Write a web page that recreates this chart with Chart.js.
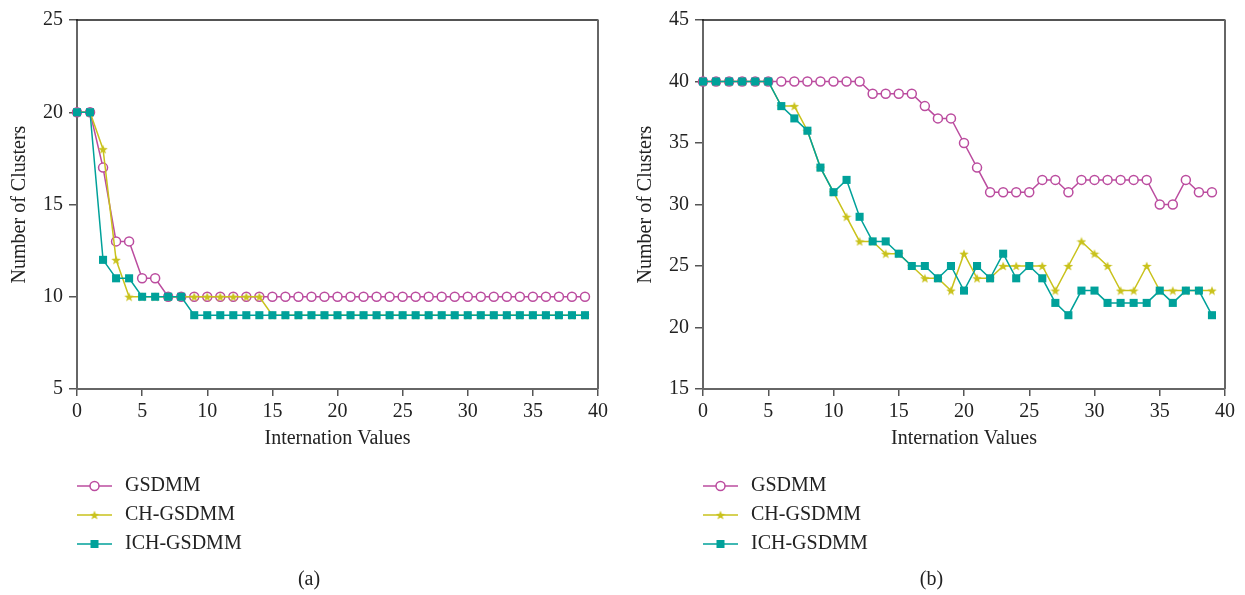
<!DOCTYPE html>
<html>
<head>
<meta charset="utf-8">
<script src="https://cdn.jsdelivr.net/npm/chart.js@4/dist/chart.umd.min.js"></script>
<style>
  html, body { margin: 0; padding: 0; background: #fff; }
  .panel { position: absolute; top: 0; height: 595px; }
  #panelA { left: 0; width: 622px; }
  #panelB { left: 622px; width: 623px; }
</style>
</head>
<body>
<div class="panel" id="panelA"><canvas id="chartA"></canvas></div>
<div class="panel" id="panelB"><canvas id="chartB"></canvas></div>
<script>
// iteration index on the x axis
const iterations = [0, 1, 2, 3, 4, 5, 6, 7, 8, 9, 10, 11, 12, 13, 14, 15, 16, 17, 18, 19,
                    20, 21, 22, 23, 24, 25, 26, 27, 28, 29, 30, 31, 32, 33, 34, 35, 36, 37, 38, 39];

// (a)
const gsdmmA = [20, 20, 17, 13, 13, 11, 11, 10, 10, 10, 10, 10, 10, 10, 10, 10, 10, 10, 10, 10,
                10, 10, 10, 10, 10, 10, 10, 10, 10, 10, 10, 10, 10, 10, 10, 10, 10, 10, 10, 10];
const chA    = [20, 20, 18, 12, 10, 10, 10, 10, 10, 10, 10, 10, 10, 10, 10, 9, 9, 9, 9, 9,
                9, 9, 9, 9, 9, 9, 9, 9, 9, 9, 9, 9, 9, 9, 9, 9, 9, 9, 9, 9];
const ichA   = [20, 20, 12, 11, 11, 10, 10, 10, 10, 9, 9, 9, 9, 9, 9, 9, 9, 9, 9, 9,
                9, 9, 9, 9, 9, 9, 9, 9, 9, 9, 9, 9, 9, 9, 9, 9, 9, 9, 9, 9];

// (b)
const gsdmmB = [40, 40, 40, 40, 40, 40, 40, 40, 40, 40, 40, 40, 40, 39, 39, 39, 39, 38, 37, 37,
                35, 33, 31, 31, 31, 31, 32, 32, 31, 32, 32, 32, 32, 32, 32, 30, 30, 32, 31, 31];
const chB    = [40, 40, 40, 40, 40, 40, 38, 38, 36, 33, 31, 29, 27, 27, 26, 26, 25, 24, 24, 23,
                26, 24, 24, 25, 25, 25, 25, 23, 25, 27, 26, 25, 23, 23, 25, 23, 23, 23, 23, 23];
const ichB   = [40, 40, 40, 40, 40, 40, 38, 37, 36, 33, 31, 32, 29, 27, 27, 26, 25, 25, 24, 25,
                23, 25, 24, 26, 24, 25, 24, 22, 21, 23, 23, 22, 22, 22, 22, 23, 22, 23, 23, 21];

const seriesNames = ['GSDMM', 'CH-GSDMM', 'ICH-GSDMM'];
const yRangeA = [5, 25];
const yRangeB = [15, 45];
const xRange = [0, 40];

const FONT = "'Liberation Serif', 'Times New Roman', serif";
const MAGENTA = '#bb4c9f';
const YELLOW = '#c9c21c';
const TEAL = '#00a19a';

// filled five point star used as the CH-GSDMM marker
function makeStar(size, color) {
    const c = document.createElement('canvas');
    c.width = size;
    c.height = size;
    const g = c.getContext('2d');
    const cx = size / 2, cy = size / 2 + 0.5;
    const outer = size / 2, inner = outer * 0.42;
    g.beginPath();
    for (let i = 0; i < 10; i++) {
        const r = i % 2 === 0 ? outer : inner;
        const a = -Math.PI / 2 + i * Math.PI / 5;
        const px = cx + r * Math.cos(a), py = cy + r * Math.sin(a);
        if (i === 0) g.moveTo(px, py); else g.lineTo(px, py);
    }
    g.closePath();
    g.fillStyle = color;
    g.fill();
    return c;
}
const starImg = makeStar(10, YELLOW);

function toPoints(values) {
    return values.map((v, i) => ({ x: iterations[i], y: v }));
}

// box top/right edges
const framePlugin = {
    id: 'frame',
    beforeDatasetsDraw(chart) {
        const a = chart.chartArea;
        const ctx = chart.ctx;
        ctx.save();
        ctx.strokeStyle = '#1a1a1a';
        ctx.lineWidth = 1.5;
        ctx.beginPath();
        ctx.moveTo(a.left - 1, a.top);
        ctx.lineTo(a.right, a.top);
        ctx.stroke();
        ctx.strokeStyle = '#666';
        ctx.lineWidth = 2;
        ctx.beginPath();
        ctx.moveTo(a.right, a.top - 0.5);
        ctx.lineTo(a.right, a.bottom);
        ctx.stroke();
        ctx.restore();
    }
};

// legend under the plot + caption
const legendPlugin = {
    id: 'bottomLegend',
    afterDraw(chart, args, opts) {
        const ctx = chart.ctx;
        const x0 = chart.chartArea.left;
        const rows = [486, 515, 544];
        ctx.save();
        chart.data.datasets.forEach((ds, i) => {
            const y = rows[i];
            ctx.strokeStyle = ds.borderColor;
            ctx.lineWidth = 1.5;
            ctx.beginPath();
            ctx.moveTo(x0, y);
            ctx.lineTo(x0 + 35, y);
            ctx.stroke();
            const mx = x0 + 17.5;
            if (ds.pointStyle === 'circle') {
                ctx.beginPath();
                ctx.arc(mx, y, 4.5, 0, Math.PI * 2);
                ctx.fillStyle = '#fff';
                ctx.fill();
                ctx.lineWidth = 1.5;
                ctx.stroke();
            } else if (ds.pointStyle === 'rect') {
                ctx.fillStyle = ds.pointBackgroundColor;
                ctx.fillRect(mx - 4, y - 4, 8, 8);
            } else {
                ctx.drawImage(ds.pointStyle, mx - ds.pointStyle.width / 2, y - ds.pointStyle.height / 2);
            }
            ctx.fillStyle = '#222';
            ctx.font = '20px ' + FONT;
            ctx.textBaseline = 'middle';
            ctx.textAlign = 'left';
            ctx.fillText(ds.label, x0 + 48, y);
        });
        ctx.fillStyle = '#222';
        ctx.font = '20px ' + FONT;
        ctx.textAlign = 'center';
        ctx.textBaseline = 'middle';
        ctx.fillText(opts.caption, chart.width / 2 - 2, 580);
        ctx.restore();
    }
};

function makeChart(id, gs, ch, ich, yRange, yWidth, titlePad, padRight, caption) {
    const ctx = document.getElementById(id).getContext('2d');
    return new Chart(ctx, {
        type: 'line',
        data: {
            datasets: [{
                label: seriesNames[0],
                data: toPoints(gs),
                borderColor: MAGENTA,
                borderWidth: 1.5,
                pointStyle: 'circle',
                pointRadius: 4.5,
                pointBorderWidth: 1.5,
                pointBackgroundColor: '#fff',
                pointBorderColor: MAGENTA,
                order: 3
            }, {
                label: seriesNames[1],
                data: toPoints(ch),
                borderColor: YELLOW,
                borderWidth: 1.5,
                pointStyle: starImg,
                pointRadius: 5,
                order: 2
            }, {
                label: seriesNames[2],
                data: toPoints(ich),
                borderColor: TEAL,
                borderWidth: 1.5,
                pointStyle: 'rect',
                pointRadius: 5.7,
                pointBorderWidth: 0,
                pointBackgroundColor: TEAL,
                pointBorderColor: TEAL,
                order: 1
            }]
        },
        options: {
            responsive: true,
            maintainAspectRatio: false,
            animation: false,
            clip: false,
            layout: {
                padding: { top: 20, right: padRight, bottom: 140, left: 0 }
            },
            elements: {
                line: { tension: 0, fill: false }
            },
            plugins: {
                legend: { display: false },
                tooltip: { enabled: false },
                bottomLegend: { caption: caption }
            },
            scales: {
                x: {
                    type: 'linear',
                    min: xRange[0],
                    max: xRange[1],
                    afterFit: (s) => { s.height = 66; },
                    ticks: {
                        stepSize: 5,
                        padding: 4,
                        color: '#222',
                        font: { family: FONT, size: 20 }
                    },
                    grid: {
                        drawOnChartArea: false,
                        drawTicks: true,
                        tickLength: 7,
                        color: '#555',
                        lineWidth: 1.5
                    },
                    border: { color: '#666', width: 2 },
                    title: {
                        display: true,
                        text: 'Internation Values',
                        color: '#222',
                        font: { family: FONT, size: 20 },
                        padding: { top: 4, bottom: 4 }
                    }
                },
                y: {
                    min: yRange[0],
                    max: yRange[1],
                    afterFit: (s) => { s.width = yWidth; },
                    ticks: {
                        stepSize: 5,
                        padding: 6,
                        color: '#222',
                        font: { family: FONT, size: 20 }
                    },
                    grid: {
                        drawOnChartArea: false,
                        drawTicks: true,
                        tickLength: 8,
                        color: '#555',
                        lineWidth: 1.5
                    },
                    border: { color: '#666', width: 2 },
                    title: {
                        display: true,
                        text: 'Number of Clusters',
                        color: '#222',
                        font: { family: FONT, size: 20 },
                        padding: { top: titlePad, bottom: 0 }
                    }
                }
            }
        },
        plugins: [framePlugin, legendPlugin]
    });
}

makeChart('chartA', gsdmmA, chA, ichA, yRangeA, 77, 8, 24, '(a)');
makeChart('chartB', gsdmmB, chB, ichB, yRangeB, 81, 12, 20, '(b)');
</script>
</body>
</html>
